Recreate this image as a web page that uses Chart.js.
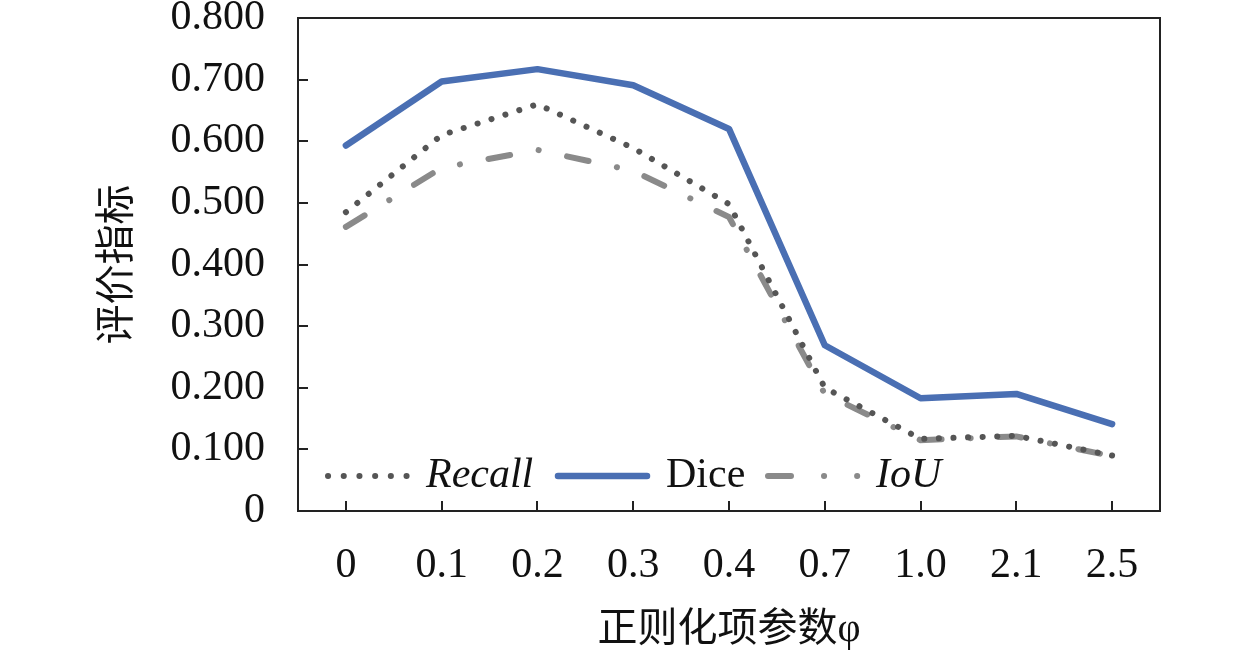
<!DOCTYPE html>
<html lang="zh">
<head>
<meta charset="UTF-8">
<title>评价指标</title>
<script src="https://cdn.jsdelivr.net/npm/chart.js@4.4.1/dist/chart.umd.min.js"></script>
<style>
  *{margin:0;padding:0;box-sizing:border-box;}
  body{background:#fff;}
  #box{width:1259px;height:658px;}
</style>
</head>
<body>
<div id="box"><canvas id="myChart" width="1259" height="658"></canvas></div>
<script>
// 데이터
const categories = ["0","0.1","0.2","0.3","0.4","0.7","1.0","2.1","2.5"];
const recallValues = [0.485,0.610,0.660,0.589,0.498,0.200,0.117,0.122,0.090];
const diceValues   = [0.593,0.697,0.717,0.691,0.620,0.269,0.183,0.190,0.141];
const iouValues    = [0.461,0.557,0.586,0.552,0.477,0.190,0.115,0.121,0.089];
const yTicks = [0,0.1,0.2,0.3,0.4,0.5,0.6,0.7,0.8];

const serif = "'Liberation Serif','Times New Roman',serif";
const cjk = "'Liberation Serif','Noto Sans CJK SC',sans-serif";

// 안쪽 눈금 + 테두리 + 범례
const framePlugin = {
  id:"frame",
  afterDraw(chart){
    const {ctx, chartArea:a, scales:{x,y}} = chart;
    ctx.save();
    ctx.strokeStyle = "#222";
    ctx.lineWidth = 2;
    ctx.strokeRect(a.left, a.top, a.right - a.left, a.bottom - a.top);
    ctx.beginPath();
    yTicks.forEach(v => {
      const py = Math.round(y.getPixelForValue(v));
      ctx.moveTo(a.left, py); ctx.lineTo(a.left + 10, py);
    });
    categories.forEach((c,i) => {
      const px = Math.round(x.getPixelForValue(i));
      ctx.moveTo(px, a.bottom); ctx.lineTo(px, a.bottom - 10);
    });
    ctx.stroke();

    // legend
    const ly = a.bottom - 35;
    const ds = chart.data.datasets;
    ctx.lineCap = "round";
    // Recall
    ctx.strokeStyle = ds[0].borderColor; ctx.lineWidth = ds[0].borderWidth;
    ctx.setLineDash([0.1, 15.6]);
    ctx.beginPath(); ctx.moveTo(a.left + 30, ly); ctx.lineTo(a.left + 109, ly); ctx.stroke();
    // Dice
    ctx.strokeStyle = ds[1].borderColor; ctx.lineWidth = ds[1].borderWidth;
    ctx.setLineDash([]);
    ctx.beginPath(); ctx.moveTo(a.left + 260, ly); ctx.lineTo(a.left + 349, ly); ctx.stroke();
    // IoU
    ctx.strokeStyle = ds[2].borderColor; ctx.lineWidth = ds[2].borderWidth;
    ctx.setLineDash([23, 33, 0.1, 33, 0.1, 300]);
    ctx.beginPath(); ctx.moveTo(a.left + 470, ly); ctx.lineTo(a.left + 560, ly); ctx.stroke();
    ctx.setLineDash([]);

    ctx.fillStyle = "#111";
    ctx.textBaseline = "middle";
    ctx.textAlign = "left";
    ctx.font = "italic 42px " + serif;
    ctx.fillText("Recall", a.left + 128, ly);
    ctx.font = "42px " + serif;
    ctx.fillText("Dice", a.left + 368, ly);
    ctx.font = "italic 42px " + serif;
    ctx.fillText("IoU", a.left + 578, ly);
    ctx.restore();
  }
};

new Chart(document.getElementById("myChart"), {
  type:"line",
  plugins:[framePlugin],
  data:{
    labels:categories,
    datasets:[
      {label:"Recall", data:recallValues, borderColor:"#555555", borderWidth:6,
       borderDash:[0.1,14.5], borderCapStyle:"round", pointRadius:0, tension:0, order:2},
      {label:"Dice", data:diceValues, borderColor:"#4a6fb3", borderWidth:6.5,
       borderCapStyle:"round", borderJoinStyle:"round", pointRadius:0, tension:0, order:1},
      {label:"IoU", data:iouValues, borderColor:"#8a8a8a", borderWidth:6,
       borderDash:[22,29,0.1,29], borderCapStyle:"round", pointRadius:0, tension:0, order:3}
    ]
  },
  options:{
    responsive:false,
    animation:false,
    layout:{padding:{left:0,right:99,top:0,bottom:0}},
    plugins:{legend:{display:false}, tooltip:{enabled:false}},
    scales:{
      x:{
        offset:true,
        grid:{display:false, drawTicks:false},
        border:{display:false},
        ticks:{color:"#111", padding:30, maxRotation:0, autoSkip:false,
               font:{family:serif, size:42}},
        title:{display:true, text:"正则化项参数φ", color:"#111",
               font:{family:cjk, size:40}, padding:{top:0,bottom:4}},
        afterFit(s){ s.height = 147; }
      },
      y:{
        min:0, max:0.8,
        grid:{display:false, drawTicks:false},
        border:{display:false},
        afterBuildTicks(s){ s.ticks = yTicks.map(v => ({value:v})); },
        ticks:{color:"#111", padding:33,
               font:{family:serif, size:42},
               callback:v => v === 0 ? "0" : v.toFixed(3)},
        title:{display:true, text:"评价指标", color:"#111",
               font:{family:cjk, size:40}, padding:{top:94,bottom:0}},
        afterFit(s){ s.width = 298; s.paddingTop = 18; s.paddingBottom = 0; }
      }
    }
  }
});
</script>
</body>
</html>
